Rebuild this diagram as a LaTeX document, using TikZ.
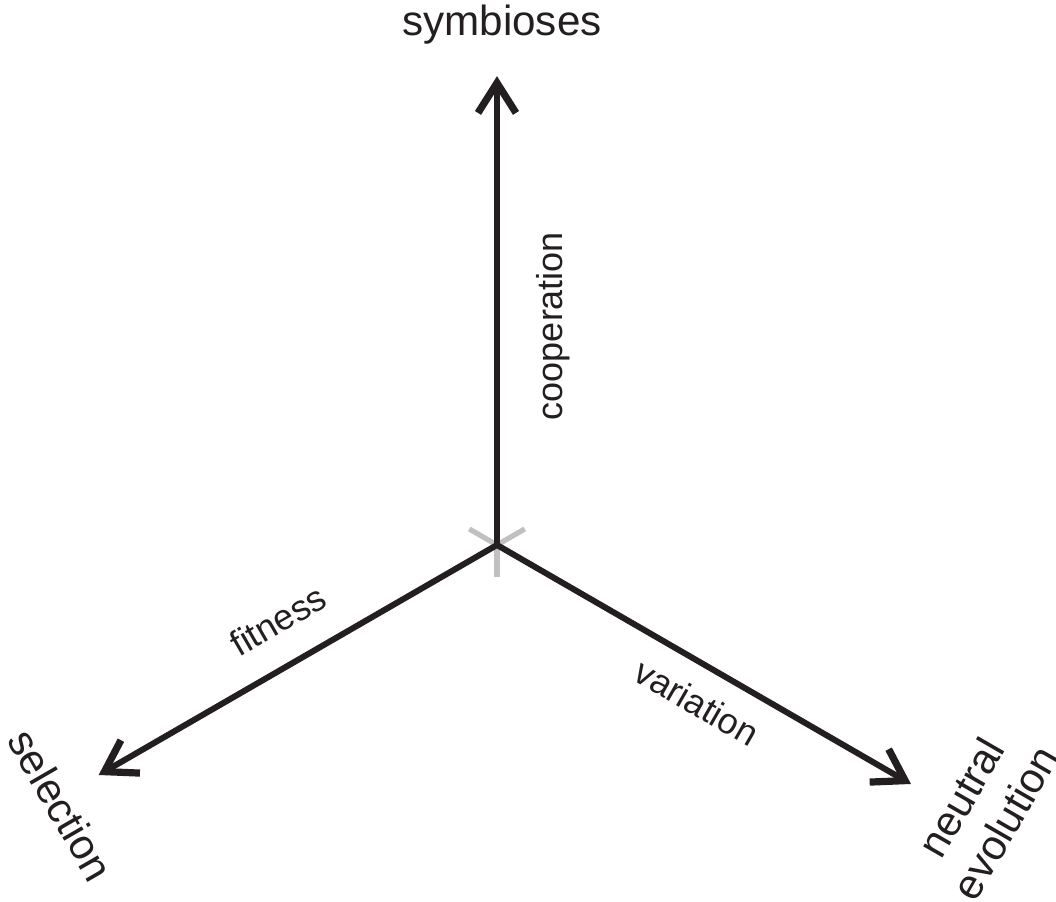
\documentclass[tikz,border=0pt]{standalone}
\usepackage{fontspec}
\setmainfont{Liberation Sans}
\usetikzlibrary{arrows.meta,positioning}

\definecolor{axisblack}{RGB}{35,31,32}
\definecolor{axisgrey}{RGB}{192,192,192}

\tikzset{
  axis/.style={line width=0.15cm, draw=axisblack,
    -{Straight Barb[length=0.75cm, width=0.95cm, line width=0.18cm, sharp]}},
  stub/.style={line width=0.13cm, draw=axisgrey},
  endlabel/.style={font=\fontsize{30}{36}\selectfont, text=axisblack, inner sep=0pt, align=center},
  axislabel/.style={font=\fontsize{25.6}{30}\selectfont, text=axisblack, inner sep=0pt}
}

\begin{document}
\begin{tikzpicture}
\useasboundingbox (-12.425,-8.925) rectangle (13.975,13.625);

\coordinate (o) at (0,0);
\coordinate (top) at (90:11.72);
\coordinate (left) at (210:11.5);
\coordinate (right) at (-30:11.95);

% grey stubs behind the origin
\coordinate (gl) at (150:0.8);
\coordinate (gr) at (30:0.8);
\coordinate (gd) at (270:0.8);
\draw [stub] (o) -- (gl);
\draw [stub] (o) -- (gr);
\draw [stub] (o) -- (gd);

% the three axes
\draw [axis] (o) -- (top);
\draw [axis] (o) -- (left);
\draw [axis] (o) -- (right);

\node [endlabel] (symb) at (0.125,13.0) {symbioses};
\node [endlabel, rotate=-60] (sel) at (-10.9,-6.5) {selection};
\node [endlabel, rotate=60] (neut) at (12.15,-6.625) {neutral\\evolution};

\node [axislabel, rotate=90] (coop) at (1.4,5.475) {cooperation};
\node [axislabel, rotate=30] (fit) at (-5.475,-1.875) {fitness};
\node [axislabel, rotate=-30] (var) at (5.0,-3.925) {variation};
\end{tikzpicture}
\end{document}
